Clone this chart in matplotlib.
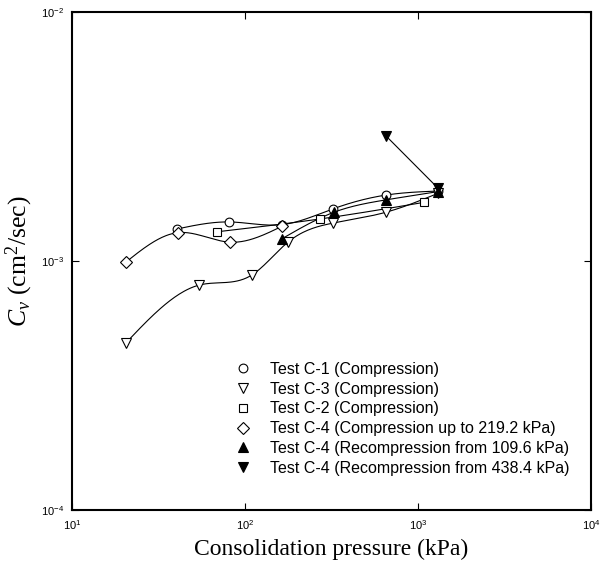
import numpy as np
import matplotlib
matplotlib.use("Agg")
import matplotlib.pyplot as plt

# --- datos ---
p_c1 = [40.5, 81, 164, 323, 653, 1306]
cv_c1 = [1.345e-3, 1.435e-3, 1.40e-3, 1.62e-3, 1.84e-3, 1.91e-3]

p_c3 = [20.5, 54.2, 109.7, 177, 323, 653, 1306]
cv_c3 = [4.69e-4, 8.0e-4, 8.79e-4, 1.19e-3, 1.42e-3, 1.57e-3, 1.87e-3]

p_c2 = [68.9, 271.5, 1083]
cv_c2 = [1.31e-3, 1.475e-3, 1.72e-3]

p_c4 = [20.5, 41.1, 82, 164]
cv_c4 = [9.9e-4, 1.30e-3, 1.19e-3, 1.38e-3]

p_c4r1 = [164, 327, 653, 1306]
cv_c4r1 = [1.23e-3, 1.57e-3, 1.76e-3, 1.90e-3]

p_c4r2 = [653, 1306]
cv_c4r2 = [3.18e-3, 1.96e-3]

labels = [
    "Test C-1 (Compression)",
    "Test C-3 (Compression)",
    "Test C-2 (Compression)",
    "Test C-4 (Compression up to 219.2 kPa)",
    "Test C-4 (Recompression from 109.6 kPa)",
    "Test C-4 (Recompression from 438.4 kPa)",
]

xticks = [10, 100, 1000, 10000]
xticklabels = [r"$\mathregular{10^{1}}$", r"$\mathregular{10^{2}}$",
               r"$\mathregular{10^{3}}$", r"$\mathregular{10^{4}}$"]
yticks = [1e-4, 1e-3, 1e-2]
yticklabels = [r"$\mathregular{10^{-4}}$", r"$\mathregular{10^{-3}}$",
               r"$\mathregular{10^{-2}}$"]

plt.rcParams["mathtext.fontset"] = "custom"
plt.rcParams["mathtext.rm"] = "Liberation Serif"
plt.rcParams["mathtext.it"] = "Liberation Serif:italic"


def spline(xs, ys, n=200):
    # spline cubica natural en espacio log-log (solo para dibujar la curva)
    x = np.log10(xs)
    y = np.log10(ys)
    k = len(x)
    if k < 3:
        return np.array(xs), np.array(ys)
    h = np.diff(x)
    A = np.zeros((k, k))
    b = np.zeros(k)
    A[0, 0] = 1
    A[-1, -1] = 1
    for i in range(1, k - 1):
        A[i, i - 1] = h[i - 1]
        A[i, i] = 2 * (h[i - 1] + h[i])
        A[i, i + 1] = h[i]
        b[i] = 6 * ((y[i + 1] - y[i]) / h[i] - (y[i] - y[i - 1]) / h[i - 1])
    M = np.linalg.solve(A, b)
    xx = np.linspace(x[0], x[-1], n)
    idx = np.clip(np.searchsorted(x, xx) - 1, 0, k - 2)
    x0, x1 = x[idx], x[idx + 1]
    hh = x1 - x0
    t0 = x1 - xx
    t1 = xx - x0
    yy = (M[idx] * t0**3 / (6 * hh) + M[idx + 1] * t1**3 / (6 * hh)
          + (y[idx] / hh - M[idx] * hh / 6) * t0
          + (y[idx + 1] / hh - M[idx + 1] * hh / 6) * t1)
    return 10**xx, 10**yy


fig = plt.figure(figsize=(6.01, 5.67), dpi=100)
ax = fig.add_axes([72 / 601, 57 / 567, 519 / 601, 498 / 567])

series = [
    (p_c1, cv_c1, "o", "white", 6.3),
    (p_c3, cv_c3, "v", "white", 7.2),
    (p_c2, cv_c2, "s", "white", 5.8),
    (p_c4, cv_c4, "D", "white", 6.0),
    (p_c4r1, cv_c4r1, "^", "black", 7.2),
    (p_c4r2, cv_c4r2, "v", "black", 7.2),
]

for (px, cv, m, fc, ms), lab in zip(series, labels):
    sx, sy = spline(px, cv)
    ax.plot(sx, sy, color="black", lw=0.8, zorder=2)
    ax.plot(px, cv, linestyle="none", marker=m, ms=ms, mfc=fc, mec="black",
            mew=0.8, label=lab, zorder=3)

ax.set_xscale("log")
ax.set_yscale("log")
ax.set_xlim(10, 10000)
ax.set_ylim(1e-4, 1e-2)
ax.set_xticks(xticks)
ax.set_xticklabels(xticklabels, fontsize=8, family="Liberation Sans")
ax.set_yticks(yticks)
ax.set_yticklabels(yticklabels, fontsize=8, family="Liberation Sans")
ax.minorticks_off()
ax.tick_params(direction="in", length=5, width=0.8, top=True, right=True,
               pad=6)
for s in ax.spines.values():
    s.set_linewidth(1.5)

ax.set_xlabel("Consolidation pressure (kPa)", fontsize=17,
              family="Liberation Serif", labelpad=5)
ax.set_ylabel(r"$C_v$ (cm$^2$/sec)", fontsize=18.5,
              family="Liberation Serif", labelpad=4)

ax.legend(loc="upper left", bbox_to_anchor=(236 / 601, 1 - 362 / 567),
          bbox_transform=fig.transFigure, frameon=False,
          prop={"family": "Liberation Sans", "size": 11.5},
          handlelength=0.9, handletextpad=1.2, labelspacing=0.295,
          borderpad=0, borderaxespad=0)

plt.savefig("out.png", dpi=100)
